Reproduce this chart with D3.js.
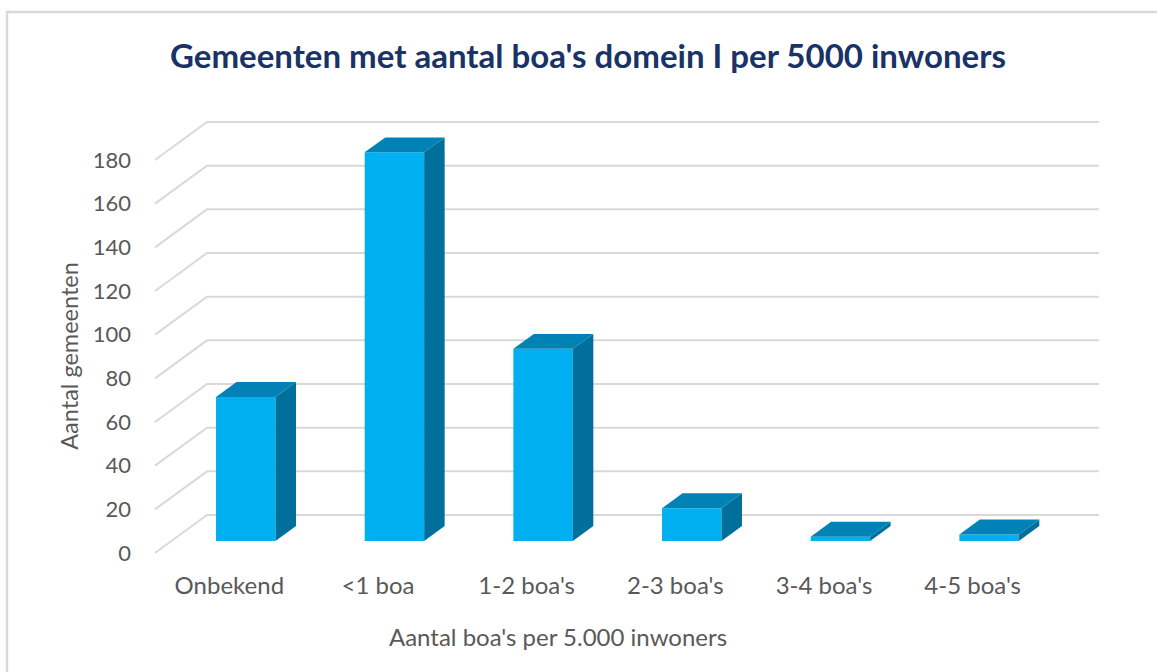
<!DOCTYPE html>
<html lang="nl">
<head>
<meta charset="utf-8">
<title>Gemeenten met aantal boa's</title>
<script src="https://cdn.jsdelivr.net/npm/d3@7"></script>
<style>
  body { margin: 0; background: #fff; }
  .title { font-family: Lato, sans-serif; font-weight: bold; font-size: 33px; fill: #1a3366; }
  .tick-label { font-family: Lato, sans-serif; font-size: 22px; fill: #595959; }
  .cat-label { font-family: Lato, sans-serif; font-size: 24px; fill: #595959; }
  .axis-title { font-family: Lato, sans-serif; font-size: 24px; fill: #595959; }
  .grid { fill: none; stroke: #d9d9d9; stroke-width: 2; }
</style>
</head>
<body>
<div id="chart"></div>
<script>
// data
const categories = ["Onbekend", "<1 boa", "1-2 boa's", "2-3 boa's", "3-4 boa's", "4-5 boa's"];
const values = [66, 178, 88, 15, 2, 3];
const yTicks = [0, 20, 40, 60, 80, 100, 120, 140, 160, 180];

const W = 1157, H = 672;

// 3d offset of the back wall relative to the front plane
const depth = { dx: 52, dy: -38 };
const f0 = 0.316, f1 = 0.71; // bar front / back as fraction of the depth

const svg = d3.select("#chart").append("svg")
  .attr("width", W).attr("height", H);

// outer border
svg.append("rect")
  .attr("x", 7).attr("y", 12)
  .attr("width", W + 20).attr("height", H + 20)
  .attr("fill", "none").attr("stroke", "#d9d9d9").attr("stroke-width", 2.5);

const x = d3.scaleBand().domain(categories).range([155, 1047]);
const y = d3.scaleLinear().domain([0, 180]).range([553, 160]);

// gridlines: side wall diagonal + back wall horizontal
svg.append("g").selectAll("path")
  .data(yTicks)
  .join("path")
  .attr("class", "grid")
  .attr("d", d => {
    const x0 = x.range()[0], y0 = y(d);
    return "M" + x0 + "," + y0 +
      "L" + (x0 + depth.dx) + "," + (y0 + depth.dy) +
      "L" + (x.range()[1] + depth.dx) + "," + (y0 + depth.dy);
  });

// y tick labels
svg.append("g").selectAll("text")
  .data(yTicks)
  .join("text")
  .attr("class", "tick-label")
  .attr("x", 131)
  .attr("y", d => y(d))
  .attr("dy", "0.35em")
  .attr("text-anchor", "end")
  .text(d => d);

// bars
const barW = x.bandwidth() * 0.4;
const bars = svg.append("g").selectAll("g")
  .data(categories.map((c, i) => ({ cat: c, val: values[i] })))
  .join("g");

function pt(px, py) { return px + "," + py; }

bars.each(function(d) {
  const g = d3.select(this);
  const xl = x(d.cat) + x.bandwidth() * 0.3 + depth.dx * f0;
  const xr = xl + barW;
  const yb = y(0) + depth.dy * f0;
  const yt = y(d.val) + depth.dy * f0;
  const ox = depth.dx * (f1 - f0), oy = depth.dy * (f1 - f0);

  // front face
  g.append("polygon")
    .attr("points", [pt(xl, yt), pt(xr, yt), pt(xr, yb), pt(xl, yb)].join(" "))
    .attr("fill", "#00b0f0");
  // right side
  g.append("polygon")
    .attr("points", [pt(xr, yt), pt(xr + ox, yt + oy), pt(xr + ox, yb + oy), pt(xr, yb)].join(" "))
    .attr("fill", "#006f9b");
  // top
  g.append("polygon")
    .attr("points", [pt(xl, yt), pt(xl + ox, yt + oy), pt(xr + ox, yt + oy), pt(xr, yt)].join(" "))
    .attr("fill", "#0082b6");
});

// category labels
svg.append("g").selectAll("text")
  .data(categories)
  .join("text")
  .attr("class", "cat-label")
  .attr("x", d => x(d) + x.bandwidth() / 2)
  .attr("y", 594)
  .attr("text-anchor", "middle")
  .text(d => d);

// titles
svg.append("text")
  .attr("class", "title")
  .attr("x", 588).attr("y", 68)
  .attr("text-anchor", "middle")
  .text("Gemeenten met aantal boa's domein I per 5000 inwoners");

svg.append("text")
  .attr("class", "axis-title")
  .attr("x", 558).attr("y", 646)
  .attr("text-anchor", "middle")
  .text("Aantal boa's per 5.000 inwoners");

svg.append("text")
  .attr("class", "axis-title")
  .attr("transform", "translate(78,356) rotate(-90)")
  .attr("text-anchor", "middle")
  .style("font-size", "23.5px")
  .text("Aantal gemeenten");
</script>
</body>
</html>
